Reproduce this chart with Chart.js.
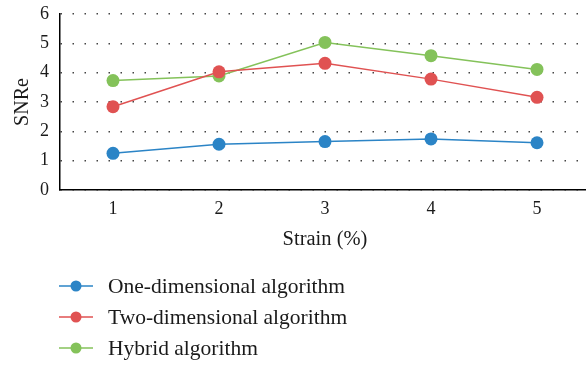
<!DOCTYPE html>
<html>
<head>
<meta charset="utf-8">
<script src="https://cdn.jsdelivr.net/npm/chart.js@4/dist/chart.umd.min.js"></script>
<style>
  html, body { margin: 0; padding: 0; background: #fff; overflow: hidden; }
  #wrap { width: 590px; height: 366px; position: relative; }
</style>
</head>
<body>
<div id="wrap"><canvas id="chart"></canvas></div>
<script>
// Strain levels (%) on the x axis
const strainLevels = ['1', '2', '3', '4', '5'];

// SNRe measured for each algorithm
const oneDimensional = [1.25, 1.56, 1.65, 1.74, 1.61];
const twoDimensional = [2.84, 4.03, 4.32, 3.78, 3.16];
const hybrid = [3.73, 3.89, 5.03, 4.58, 4.11];

const seriesNames = ['One-dimensional algorithm', 'Two-dimensional algorithm', 'Hybrid algorithm'];
const seriesColors = ['#2b84c6', '#e05252', '#84c25a'];

const SERIF = '"Liberation Serif", "DejaVu Serif", serif';
const X_AXIS_HEIGHT = 66;
const PLOT_BOTTOM = 190;

// Vertical legend drawn under the plot: line + dot, then the name
const stackedLegend = {
  id: 'stackedLegend',
  afterDraw(chart) {
    const ctx = chart.ctx;
    ctx.save();
    ctx.font = '21.5px ' + SERIF;
    ctx.textBaseline = 'middle';
    ctx.textAlign = 'left';
    chart.data.datasets.forEach((ds, i) => {
      const y = 286 + i * 31;
      ctx.strokeStyle = ds.borderColor;
      ctx.lineWidth = 1.5;
      ctx.beginPath();
      ctx.moveTo(59, y);
      ctx.lineTo(93, y);
      ctx.stroke();
      ctx.fillStyle = ds.backgroundColor;
      ctx.beginPath();
      ctx.arc(76, y, 5.5, 0, Math.PI * 2);
      ctx.fill();
      ctx.fillStyle = '#1a1a1a';
      ctx.fillText(ds.label, 108, y + 1);
    });
    ctx.restore();
  }
};

const makeSet = (i, values) => ({
  label: seriesNames[i],
  data: values,
  borderColor: seriesColors[i],
  backgroundColor: seriesColors[i],
  pointBackgroundColor: seriesColors[i],
  pointBorderWidth: 0,
  pointRadius: 6.5,
  borderWidth: 1.5,
  tension: 0,
  clip: false
});

new Chart(document.getElementById('chart'), {
  type: 'line',
  data: {
    labels: strainLevels,
    datasets: [
      makeSet(0, oneDimensional),
      makeSet(1, twoDimensional),
      makeSet(2, hybrid)
    ]
  },
  options: {
    responsive: true,
    maintainAspectRatio: false,
    animation: false,
    devicePixelRatio: 1,
    layout: {
      autoPadding: false,
      padding: { left: 0, right: 0, top: 14, bottom: 366 - PLOT_BOTTOM - X_AXIS_HEIGHT }
    },
    plugins: {
      legend: { display: false },
      tooltip: { enabled: false }
    },
    scales: {
      x: {
        offset: true,
        grid: { display: false, drawTicks: false },
        border: { display: true, color: '#000', width: 1.5 },
        ticks: { color: '#1a1a1a', padding: 8, font: { family: SERIF, size: 18 } },
        title: {
          display: true,
          text: 'Strain (%)',
          color: '#1a1a1a',
          font: { family: SERIF, size: 20.5 },
          padding: { top: 4, bottom: 4 }
        },
        afterFit(scale) {
          scale.height = X_AXIS_HEIGHT;
          scale.paddingLeft = 0;
          scale.paddingRight = 0;
        }
      },
      y: {
        min: 0,
        max: 6,
        ticks: { stepSize: 1, color: '#1a1a1a', padding: 11, font: { family: SERIF, size: 18 } },
        grid: { color: '#444', lineWidth: 1.5, drawTicks: false },
        border: { display: true, color: '#000', width: 1.5, dash: [1.5, 10.5] },
        title: {
          display: true,
          text: 'SNRe',
          color: '#1a1a1a',
          font: { family: SERIF, size: 20 },
          padding: { top: 11, bottom: 0 }
        },
        afterFit(scale) {
          scale.width = 60;
          scale.paddingTop = 0;
          scale.paddingBottom = 0;
        }
      }
    }
  },
  plugins: [stackedLegend]
});
</script>
</body>
</html>
